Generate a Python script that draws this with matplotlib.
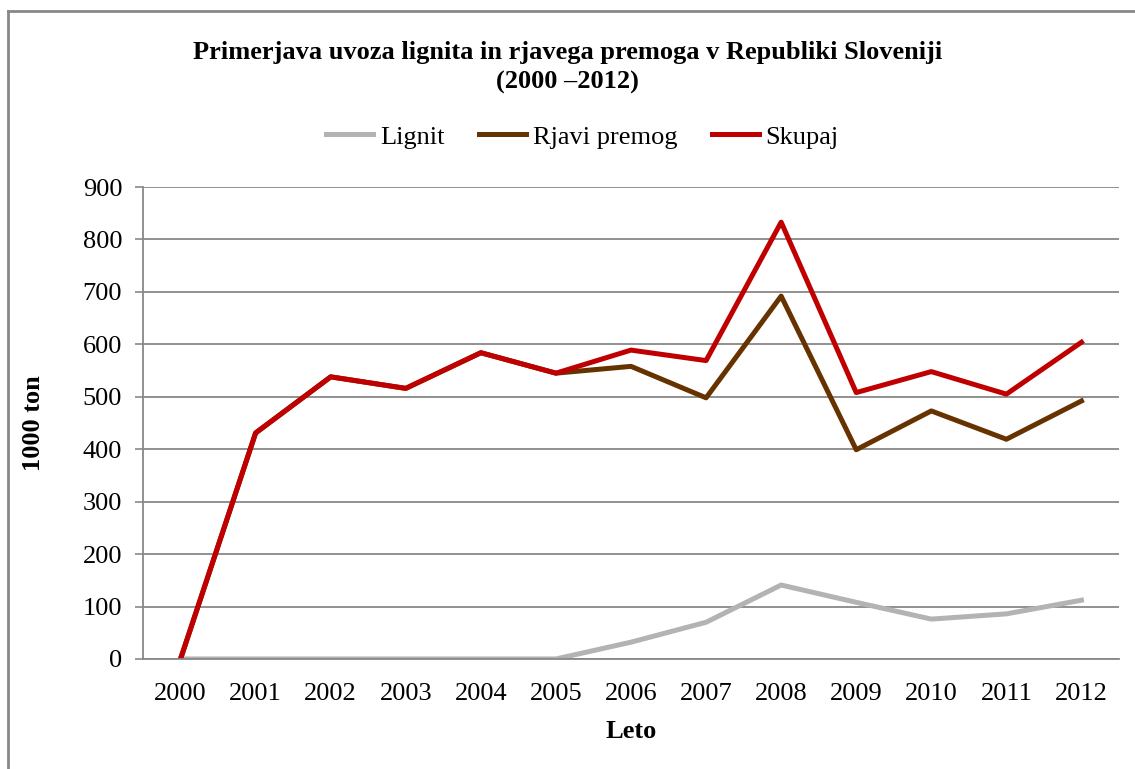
import matplotlib.pyplot as plt
from matplotlib.lines import Line2D

# uvoz v 1000 ton
leta = ["2000", "2001", "2002", "2003", "2004", "2005", "2006",
        "2007", "2008", "2009", "2010", "2011", "2012"]
lignit = [0, 0, 0, 0, 0, 0, 32, 70, 141, 108, 76, 86, 112]
rjavi_premog = [0, 431, 538, 516, 584, 545, 558, 498, 692, 399, 473, 419, 492]
skupaj = [0, 431, 538, 516, 584, 545, 589, 569, 833, 508, 548, 505, 604]

plt.rcParams["font.family"] = ["Liberation Serif", "DejaVu Serif"]
fs = 19

fig = plt.figure(figsize=(11.35, 7.69), dpi=100)
ax = fig.add_axes([0.126, 0.1431, 0.8599, 0.6137])

x = range(len(leta))
ax.plot(x, lignit, color="#b3b3b3", lw=3.6, label="Lignit", solid_joinstyle="round")
ax.plot(x, rjavi_premog, color="#663300", lw=3.6, label="Rjavi premog", solid_joinstyle="round")
ax.plot(x, skupaj, color="#c00000", lw=3.6, label="Skupaj", solid_joinstyle="round")

ax.set_xlim(-0.5, len(leta) - 0.5)
ax.set_ylim(0, 900)
ax.set_yticks(range(0, 901, 100))
ax.set_xticks(list(x))
ax.set_xticklabels(leta)
ax.tick_params(axis="both", labelsize=fs)
ax.tick_params(axis="x", length=0, pad=17)
ax.tick_params(axis="y", length=6, width=1.2, color="#888888", pad=9)

ax.grid(axis="y", color="#888888", lw=1.3)
ax.set_axisbelow(True)
for s in ["top", "right"]:
    ax.spines[s].set_visible(False)
ax.spines["left"].set_color("#888888")
ax.spines["left"].set_linewidth(1.3)
ax.spines["bottom"].set_color("#888888")
ax.spines["bottom"].set_linewidth(1.3)

ax.set_xlabel("Leto", fontsize=fs, fontweight="bold")
ax.set_ylabel("1000 ton", fontsize=fs, fontweight="bold")
ax.xaxis.set_label_coords(0.5, -0.129)
ax.yaxis.set_label_coords(-0.1007, 0.5)

fig.text(0.5, 0.912, "Primerjava uvoza lignita in rjavega premoga v Republiki Sloveniji\n(2000 \u20132012)",
         ha="center", va="center", fontsize=fs, fontweight="bold", linespacing=1.35)

fig.legend(loc="center", bbox_to_anchor=(0.513, 0.822), ncol=3, frameon=False,
           fontsize=fs, handlelength=1.8, handletextpad=0.25, columnspacing=1.3)

# okvir grafikona
fig.add_artist(Line2D([8 / 1135, 8 / 1135], [0, 1 - 11 / 769], transform=fig.transFigure,
                      color="#888888", lw=2))
fig.add_artist(Line2D([8 / 1135, 1], [1 - 11 / 769, 1 - 11 / 769], transform=fig.transFigure,
                      color="#888888", lw=2))

fig.savefig("out.png", dpi=100)
